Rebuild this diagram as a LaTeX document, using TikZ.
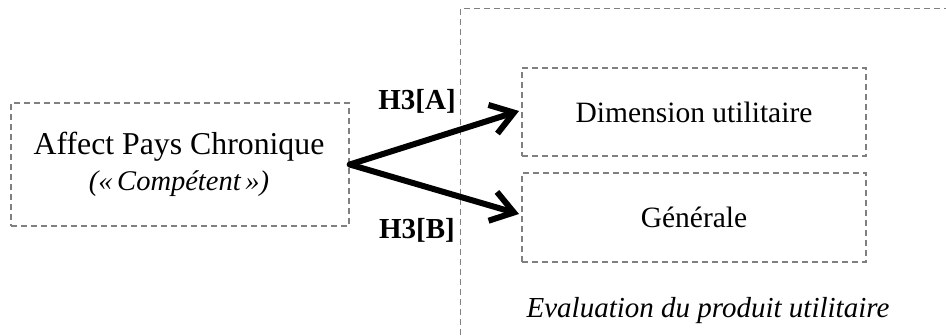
\documentclass[tikz,border=0pt]{standalone}
\usepackage{fontspec}
\setmainfont{Liberation Serif}
\usetikzlibrary{arrows.meta}
\tikzset{
  dbox/.style={draw=gray, dashed, dash pattern=on 6pt off 4pt, line width=1.5pt, align=center, inner sep=0pt},
  harrow/.style={line width=6pt, -{Straight Barb[length=22pt,width=30pt,line width=6pt]}, line cap=round, line join=round},
  lab/.style={font=\fontsize{29}{32}\selectfont\bfseries}
}
\begin{document}
\begin{tikzpicture}[x=1pt,y=-1pt]
\useasboundingbox (0,0) rectangle (946,335);
\clip (0,0) rectangle (946,335);
\draw[dbox] (460.7,345) -- (460.7,8.3) -- (960,8.3);
\node[dbox, minimum width=338pt, minimum height=123pt] (apc) at (180,164.5) {};
\node[font=\fontsize{31.8}{36}\selectfont] (apct) at (179,147) {Affect Pays Chronique};
\node[font=\fontsize{28.5}{32}\selectfont\itshape] (apcs) at (179,184) {(«\,Compétent\,»)};
\node[dbox, minimum width=344pt, minimum height=88pt, font=\fontsize{29.5}{34}\selectfont] (dim) at (694,112) {Dimension utilitaire};
\node[dbox, minimum width=344pt, minimum height=89pt, font=\fontsize{29.5}{34}\selectfont] (gen) at (694,217.5) {Générale};
\node[font=\fontsize{29}{34}\selectfont\itshape] (evl) at (708,311) {Evaluation du produit utilitaire};
\coordinate (ta) at (519,111);
\coordinate (tb) at (519,214);
\draw[harrow] (apc.east) -- (ta);
\draw[harrow] (apc.east) -- (tb);
\node[lab] (ha) at (417,101) {H3[A]};
\node[lab] (hb) at (417,230) {H3[B]};
\end{tikzpicture}
\end{document}
